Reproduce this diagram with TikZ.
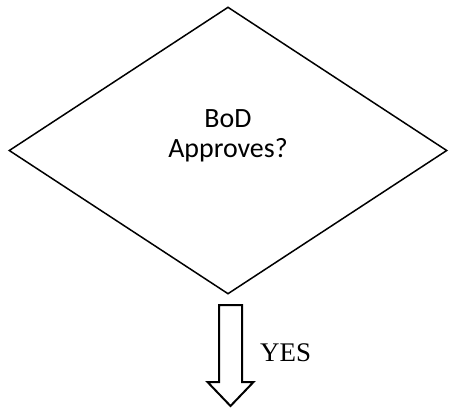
\documentclass[tikz,border=0pt]{standalone}
\usepackage{fontspec}
\setmainfont{Liberation Serif}
\newfontfamily\calibri{Carlito}
\usetikzlibrary{shapes.geometric}
\tikzset{decision/.style={diamond, draw, line width=1.5bp, minimum width=438bp, minimum height=287bp, inner sep=0pt}}
\tikzset{question/.style={align=center, inner sep=0pt, font=\calibri\fontsize{28}{30}\selectfont}}

\begin{document}
\begin{tikzpicture}[x=1bp,y=-1bp]
    \useasboundingbox (0,0) rectangle (449,409);
    % the decision box
    \node[decision] (decide) at (228,150.5) {};
    \node[question] (ask) at (228,136) {BoD\\Approves?};
    % block arrow below it
    \coordinate (yestop) at (230.5,305);
    \draw[line width=2bp, line join=miter, shift={(yestop)}] (-11.5,0) -- (11.5,0) -- (11.5,77) -- (23,77) -- (0,101) -- (-23,77) -- (-11.5,77) -- cycle;
    \node[anchor=base west, inner sep=0pt, font=\fontsize{27}{30}\selectfont] (yes) at (260,361) {YES};
\end{tikzpicture}
\end{document}
